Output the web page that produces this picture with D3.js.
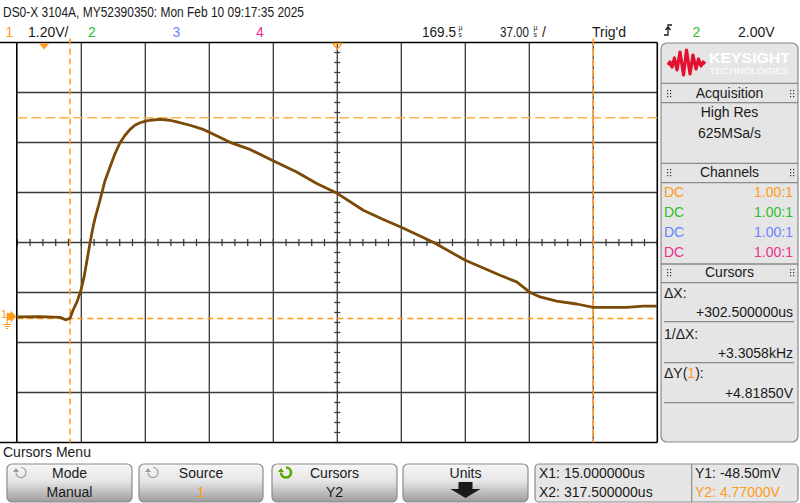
<!DOCTYPE html>
<html lang="en">
<head>
<meta charset="UTF-8">
<title>DSO-X 3104A capture</title>
<script src="https://d3js.org/d3.v7.min.js"></script>
<style>
    body { margin: 0; background: #fff; }
    svg { display: block; font-family: "Liberation Sans", Arial, sans-serif; }
    .txt { font-size: 14px; fill: #1a1a1a; }
</style>
</head>
<body>
<svg id="scope" width="800" height="503"></svg>
<script>
// ---- scope settings ----
const timePerDiv = 37.0;      // us/div
const timeDelay = 169.5;      // us at screen centre
const ch1Scale = 1.2;         // V/div
const ch1Offset = 1.776;      // V at screen centre
const cursorX = [15.0, 317.5];     // us
const cursorY = [-0.0485, 4.77];   // V

// ---- channel 1 trace (time in us, volts) ----
const traceTime = [-15.5, -2.4, 9.2, 12.7, 15.0, 16.7, 19.0, 21.3, 23.1, 24.8, 26.5, 28.3, 29.4,
    32.3, 35.2, 38.1, 41.0, 43.9, 46.8, 49.7, 52.5, 55.4, 58.7, 61.2, 67.0, 72.8, 76.7, 84.3,
    92.0, 95.5, 107.5, 119.0, 132.7, 146.0, 157.6, 169.7, 184.5, 196.1, 206.5, 225.0, 243.5,
    263.6, 273.2, 280.5, 286.7, 296.3, 307.9, 317.5, 336.8, 346.4, 354.3];
const traceVolts = [-0.01, -0.005, -0.02, -0.08, -0.04, 0.15, 0.35, 0.63, 0.95, 1.35, 1.76, 2.15, 2.35,
    2.79, 3.26, 3.59, 3.91, 4.17, 4.35, 4.49, 4.59, 4.65, 4.69, 4.71, 4.73, 4.71, 4.67, 4.59,
    4.49, 4.42, 4.18, 4.01, 3.73, 3.47, 3.19, 2.95, 2.55, 2.33, 2.14, 1.78, 1.35,
    0.99, 0.83, 0.59, 0.47, 0.37, 0.30, 0.22, 0.22, 0.25, 0.25];

// ---- panel texts ----
const channelRows = [
    { coupling: "DC", probe: "1.00:1", color: "#ff9a1a" },
    { coupling: "DC", probe: "1.00:1", color: "#2fbf2f" },
    { coupling: "DC", probe: "1.00:1", color: "#6b82ff" },
    { coupling: "DC", probe: "1.00:1", color: "#ee2f8f" }
];
const softkeys = [
    { label: "Mode", value: "Manual", x0: 7, x1: 132, icon: "gray" },
    { label: "Source", value: "1", x0: 139, x1: 263, icon: "gray", valueColor: "#ff9a1a" },
    { label: "Cursors", value: "Y2", x0: 272, x1: 397, icon: "green" },
    { label: "Units", value: null, x0: 403, x1: 528, icon: null }
];

const orange = "#ff9a1a";
const svg = d3.select("#scope");

const plotL = 17.3, plotR = 657.3, plotT = 42.5, plotB = 442.5;
const x = d3.scaleLinear()
    .domain([timeDelay - 5 * timePerDiv, timeDelay + 5 * timePerDiv])
    .range([plotL, plotR]);
const y = d3.scaleLinear()
    .domain([ch1Offset - 4 * ch1Scale, ch1Offset + 4 * ch1Scale])
    .range([plotB, plotT]);

// gradient for softkeys
const defs = svg.append("defs");
const grad = defs.append("linearGradient").attr("id", "key").attr("x1", 0).attr("y1", 0).attr("x2", 0).attr("y2", 1);
grad.append("stop").attr("offset", "0%").attr("stop-color", "#f6f6f6");
grad.append("stop").attr("offset", "45%").attr("stop-color", "#e6e6e6");
grad.append("stop").attr("offset", "100%").attr("stop-color", "#9c9c9c");
defs.append("clipPath").attr("id", "plotclip")
    .append("rect").attr("x", plotL).attr("y", plotT).attr("width", plotR - plotL).attr("height", plotB - plotT);

// ---- header lines ----
svg.append("text").attr("class", "txt").attr("x", 3).attr("y", 16.5)
    .attr("textLength", 301).attr("lengthAdjust", "spacingAndGlyphs")
    .text("DS0-X 3104A, MY52390350: Mon Feb 10 09:17:35 2025");

const row2 = [
    { t: "1", x: 5.5, c: orange },
    { t: "1.20V/", x: 28, c: "#1a1a1a" },
    { t: "2", x: 88, c: "#2fbf2f" },
    { t: "3", x: 172.5, c: "#6b82ff" },
    { t: "4", x: 256, c: "#ee2f8f" },
    { t: "169.5", x: 422, c: "#1a1a1a", w: 34 },
    { t: "37.00", x: 500, c: "#1a1a1a", w: 29 },
    { t: "/", x: 542, c: "#1a1a1a" },
    { t: "Trig'd", x: 592, c: "#1a1a1a" },
    { t: "2", x: 692.5, c: "#2fbf2f" },
    { t: "2.00V", x: 738, c: "#1a1a1a" }
];
svg.selectAll("text.row2").data(row2).enter().append("text")
    .attr("class", "txt row2").attr("x", d => d.x).attr("y", 36.5)
    .attr("textLength", d => d.w || null).attr("lengthAdjust", "spacingAndGlyphs")
    .style("fill", d => d.c).text(d => d.t);
// stacked "us" unit glyphs (one text, two lines)
[458.5, 533.5].forEach(ux => {
    const u = svg.append("text").style("font-size", "7px").style("fill", "#1a1a1a");
    u.append("tspan").attr("x", ux).attr("y", 30).text("µ");
    u.append("tspan").attr("x", ux).attr("y", 37).text("s");
});
// trigger slope icon
svg.append("path").attr("d", "M664,35 H668 V25 H672 M665.5,30 L668,27 L670.5,30")
    .attr("fill", "none").attr("stroke", "#1a1a1a").attr("stroke-width", 1.3);

// ---- graticule ----
const g = svg.append("g");
const vDivs = d3.range(0, 11).map(i => timeDelay + (i - 5) * timePerDiv);
const hDivs = d3.range(0, 9).map(j => ch1Offset + (j - 4) * ch1Scale);
g.selectAll("line.v").data(vDivs.slice(1, 10)).enter().append("line")
    .attr("x1", d => x(d)).attr("x2", d => x(d)).attr("y1", plotT).attr("y2", plotB)
    .attr("stroke", "#3a3a3a").attr("stroke-width", 1.3);
g.selectAll("line.h").data(hDivs.slice(1, 8)).enter().append("line")
    .attr("y1", d => y(d)).attr("y2", d => y(d)).attr("x1", plotL).attr("x2", plotR)
    .attr("stroke", "#3a3a3a").attr("stroke-width", 1.3);
// minor ticks on centre axes
const minorT = d3.range(0, 51).map(i => x.domain()[0] + i * timePerDiv / 5);
g.selectAll("line.mt").data(minorT).enter().append("line")
    .attr("x1", d => x(d)).attr("x2", d => x(d)).attr("y1", y(ch1Offset) - 3.5).attr("y2", y(ch1Offset) + 3.5)
    .attr("stroke", "#3a3a3a").attr("stroke-width", 1.3);
const minorV = d3.range(0, 41).map(i => y.domain()[0] + i * ch1Scale / 5);
g.selectAll("line.mv").data(minorV).enter().append("line")
    .attr("y1", d => y(d)).attr("y2", d => y(d)).attr("x1", x(timeDelay) - 3).attr("x2", x(timeDelay) + 3)
    .attr("stroke", "#3a3a3a").attr("stroke-width", 1.3);
// border
g.append("line").attr("x1", 0).attr("x2", plotR).attr("y1", plotT).attr("y2", plotT).attr("stroke", "#000").attr("stroke-width", 1.6);
g.append("line").attr("x1", 0).attr("x2", plotR).attr("y1", plotB).attr("y2", plotB).attr("stroke", "#000").attr("stroke-width", 1.6);
g.append("line").attr("x1", plotL - 0.5).attr("x2", plotL - 0.5).attr("y1", plotT).attr("y2", plotB).attr("stroke", "#000").attr("stroke-width", 1.6);
g.append("line").attr("x1", plotR).attr("x2", plotR).attr("y1", plotT).attr("y2", plotB).attr("stroke", "#000").attr("stroke-width", 1.6);

// ---- cursors ----
const cur = svg.append("g");
cur.append("line").attr("x1", x(cursorX[0])).attr("x2", x(cursorX[0])).attr("y1", plotT - 4).attr("y2", plotB)
    .attr("stroke", orange).attr("stroke-width", 1.5).attr("stroke-dasharray", "6,4");
cur.append("line").attr("x1", x(cursorX[1])).attr("x2", x(cursorX[1])).attr("y1", plotT - 4).attr("y2", plotB)
    .attr("stroke", orange).attr("stroke-width", 1.5).attr("stroke-dasharray", "8,2");
cur.append("line").attr("x1", plotL).attr("x2", plotR).attr("y1", y(cursorY[0])).attr("y2", y(cursorY[0]))
    .attr("stroke", orange).attr("stroke-width", 1.5).attr("stroke-dasharray", "6,4");
cur.append("line").attr("x1", plotL).attr("x2", plotR).attr("y1", y(cursorY[1])).attr("y2", y(cursorY[1]))
    .attr("stroke", "#ffb347").attr("stroke-width", 1.5).attr("stroke-dasharray", "10,4");

// trigger point and delay markers
const tx = x(0), dx = x(timeDelay);
svg.append("path").attr("d", `M${tx - 5},${plotT + 1} H${tx + 5} L${tx},${plotT + 7} Z`).attr("fill", orange);
svg.append("path").attr("d", `M${dx - 4.5},${plotT + 1} H${dx + 4.5} L${dx},${plotT + 6.5} Z`)
    .attr("fill", "none").attr("stroke", orange).attr("stroke-width", 1.3);

// ground reference marker for channel 1
const gy = y(0);
svg.append("text").attr("x", 1).attr("y", gy + 1).style("font-size", "11px").style("fill", orange).text("1");
svg.append("path").attr("d", `M7,${gy + 5} V${gy - 3} H11 V${gy - 5} L16,${gy} L11,${gy + 5} V${gy + 3} H9`)
    .attr("fill", orange).attr("stroke", orange).attr("stroke-width", 0.8);
svg.append("path").attr("d", `M7,${gy + 5} V${gy + 8} M3,${gy + 8} H11 M4.5,${gy + 10} H9.5 M6,${gy + 12} H8`)
    .attr("stroke", orange).attr("stroke-width", 1.2).attr("fill", "none");

// ---- trace ----
const pts = traceTime.map((t, i) => [t, traceVolts[i]]);
svg.append("path").datum(pts)
    .attr("clip-path", "url(#plotclip)")
    .attr("d", d3.line().x(d => x(d[0])).y(d => y(d[1])))
    .attr("fill", "none").attr("stroke", "#7a4a06").attr("stroke-width", 2.8)
    .attr("stroke-linejoin", "round");

// ---- right panel ----
const pL = 661, pR = 798, pT = 43, pB = 442;
const panel = svg.append("g");
panel.append("rect").attr("x", pL).attr("y", pT).attr("width", pR - pL).attr("height", pB - pT)
    .attr("rx", 6).attr("fill", "#e5e5e5").attr("stroke", "#8a8a8a").attr("stroke-width", 1.2);
// logo
panel.append("path")
    .attr("d", "M668,65 L670,62 L672,67 L674.5,58 L677,70 L680,52 L683.5,75 L686.5,50 L690,74 L693,55 L696,69 L698.5,59 L701,66 L703,62 L705,64")
    .attr("fill", "none").attr("stroke", "#e3102f").attr("stroke-width", 3.2).attr("stroke-linejoin", "round");
panel.append("text").attr("x", 709).attr("y", 63).attr("textLength", 81).attr("lengthAdjust", "spacingAndGlyphs")
    .style("font-size", "15px").style("font-weight", "bold").style("fill", "#fff").text("KEYSIGHT");
panel.append("text").attr("x", 709).attr("y", 73.5).attr("textLength", 80).attr("lengthAdjust", "spacingAndGlyphs")
    .style("font-size", "9.5px").style("fill", "#fff").text("TECHNOLOGIES");

const fullSeps = [83.3, 102.7, 163.3, 182.7, 264, 282.7];
panel.selectAll("line.fs").data(fullSeps).enter().append("line")
    .attr("x1", pL).attr("x2", pR).attr("y1", d => d).attr("y2", d => d)
    .attr("stroke", "#8a8a8a").attr("stroke-width", 1.3);
const innerSeps = [321.7, 362.7, 402.7];
panel.selectAll("line.is").data(innerSeps).enter().append("line")
    .attr("x1", 664).attr("x2", 794).attr("y1", d => d).attr("y2", d => d)
    .attr("stroke", "#8a8a8a").attr("stroke-width", 1.3);

const headers = [{ t: "Acquisition", y: 98 }, { t: "Channels", y: 177 }, { t: "Cursors", y: 277 }];
const pc = (pL + pR) / 2;
headers.forEach(h => {
    panel.append("text").attr("class", "txt").attr("x", pc).attr("y", h.y).attr("text-anchor", "middle").text(h.t);
    // grip dots
    [667, 790].forEach(gx => {
        [[0, 0], [3, 0], [0, 3], [3, 3], [0, 6], [3, 6]].forEach(o => {
            panel.append("rect").attr("x", gx + o[0]).attr("y", h.y - 8 + o[1]).attr("width", 1.2).attr("height", 1.2).attr("fill", "#333");
        });
    });
});
panel.append("text").attr("class", "txt").attr("x", pc).attr("y", 117).attr("text-anchor", "middle").text("High Res");
panel.append("text").attr("class", "txt").attr("x", pc).attr("y", 137.5).attr("text-anchor", "middle").text("625MSa/s");

panel.selectAll("text.cc").data(channelRows).enter().append("text")
    .attr("class", "txt").attr("x", 664).attr("y", (d, i) => 197 + i * 20).style("fill", d => d.color).text(d => d.coupling);
panel.selectAll("text.cp").data(channelRows).enter().append("text")
    .attr("class", "txt").attr("x", 793).attr("y", (d, i) => 197 + i * 20).attr("text-anchor", "end")
    .style("fill", d => d.color).text(d => d.probe);

const dX = cursorX[1] - cursorX[0];
const dY = cursorY[1] - cursorY[0];
panel.append("text").attr("class", "txt").attr("x", 664).attr("y", 297.5).text("ΔX:");
panel.append("text").attr("class", "txt").attr("x", 793).attr("y", 317).attr("text-anchor", "end").text("+" + dX.toFixed(6) + "us");
panel.append("text").attr("class", "txt").attr("x", 664).attr("y", 339).text("1/ΔX:");
panel.append("text").attr("class", "txt").attr("x", 793).attr("y", 358).attr("text-anchor", "end").text("+" + (1000 / dX).toFixed(4) + "kHz");
const dyLabel = panel.append("text").attr("class", "txt").attr("x", 664).attr("y", 378);
dyLabel.append("tspan").text("ΔY(");
dyLabel.append("tspan").style("fill", orange).text("1");
dyLabel.append("tspan").text("):");
panel.append("text").attr("class", "txt").attr("x", 793).attr("y", 397.5).attr("text-anchor", "end").text("+" + dY.toFixed(5) + "V");

// ---- softkey bar ----
svg.append("text").attr("class", "txt").attr("x", 3).attr("y", 457).text("Cursors Menu");
const keyT = 464, keyB = 502;
const keys = svg.selectAll("g.key").data(softkeys).enter().append("g").attr("class", "key");
keys.append("rect").attr("x", d => d.x0).attr("y", keyT).attr("width", d => d.x1 - d.x0).attr("height", keyB - keyT)
    .attr("rx", 5).attr("fill", "url(#key)").attr("stroke", "#8c8c8c").attr("stroke-width", 1.2);
keys.append("text").attr("class", "txt").attr("x", d => (d.x0 + d.x1) / 2).attr("y", 477.5)
    .attr("text-anchor", "middle").text(d => d.label);
keys.filter(d => d.value).append("text").attr("class", "txt").attr("x", d => (d.x0 + d.x1) / 2).attr("y", 496.5)
    .attr("text-anchor", "middle").style("fill", d => d.valueColor || "#1a1a1a").text(d => d.value);
// rotate icons
keys.filter(d => d.icon).each(function(d) {
    const cx = d.x0 + 14, cy = 472.5, r = 5;
    const col = d.icon === "green" ? "#5aa800" : "#9a9a9a";
    const sw = d.icon === "green" ? 2.6 : 1.1;
    d3.select(this).append("path")
        .attr("d", `M${cx - r},${cy} A${r},${r} 0 1 0 ${cx},${cy - r}`)
        .attr("fill", "none").attr("stroke", col).attr("stroke-width", sw);
    d3.select(this).append("path")
        .attr("d", `M${cx - r - 3},${cy - 0.5} L${cx - r},${cy - 4.5} L${cx - r + 3},${cy - 0.5} Z`)
        .attr("fill", col);
});
// units down arrow
const ux = (softkeys[3].x0 + softkeys[3].x1) / 2;
svg.append("path").attr("d", `M${ux - 7},482 H${ux + 7} V489 H${ux + 15} L${ux},498 L${ux - 15},489 H${ux - 7} Z`).attr("fill", "#1a1a1a");

// cursor readout box
const box = svg.append("g");
box.append("rect").attr("x", 535).attr("y", keyT).attr("width", 263).attr("height", keyB - keyT)
    .attr("rx", 4).attr("fill", "#e6e6e6").attr("stroke", "#8c8c8c").attr("stroke-width", 1.2);
box.append("line").attr("x1", 691.7).attr("x2", 691.7).attr("y1", keyT).attr("y2", keyB).attr("stroke", "#8c8c8c").attr("stroke-width", 1.2);
box.append("text").attr("class", "txt").attr("x", 539).attr("y", 477.5).text("X1: " + cursorX[0].toFixed(6) + "us");
box.append("text").attr("class", "txt").attr("x", 539).attr("y", 496.5).text("X2: " + cursorX[1].toFixed(6) + "us");
box.append("text").attr("class", "txt").attr("x", 695).attr("y", 477.5).text("Y1: " + (cursorY[0] * 1000).toFixed(2) + "mV");
box.append("text").attr("class", "txt").attr("x", 695).attr("y", 496.5).style("fill", orange).text("Y2: " + cursorY[1].toFixed(5) + "V");
</script>
</body>
</html>
